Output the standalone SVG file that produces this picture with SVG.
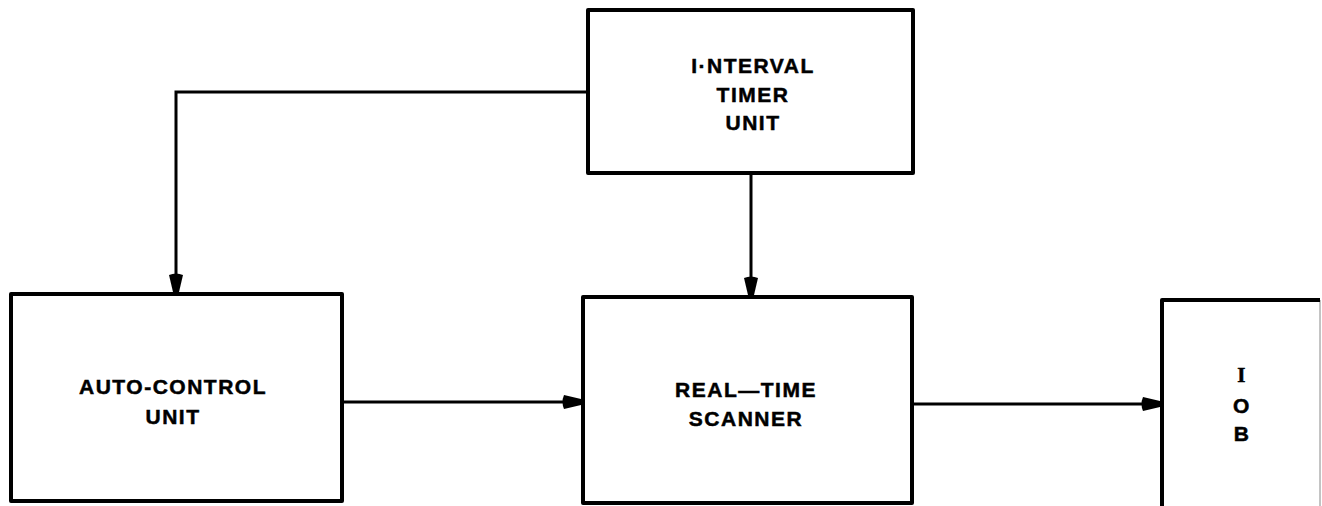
<svg xmlns="http://www.w3.org/2000/svg" width="1322" height="506" viewBox="0 0 1322 506">
<style>
.box{fill:#fff;stroke:#000;stroke-width:4;stroke-linejoin:round}
.lbl{font-family:"Liberation Sans",Arial,sans-serif;font-weight:bold;font-size:21px;letter-spacing:1.5px;text-anchor:middle;fill:#000;stroke:#000;stroke-width:0.5}
.conn{fill:none;stroke:#000;stroke-width:3;marker-end:url(#arr)}
</style>
<defs>
<marker id="arr" markerUnits="userSpaceOnUse" viewBox="-20 -8 21 16" refX="0" refY="0" markerWidth="21" markerHeight="16" orient="auto">
<path d="M0,-3 L-17,-7 Q-20,0 -17,7 L0,3 Z" fill="#000"/>
</marker>
</defs>
<rect width="1322" height="506" fill="#fff"/>
<g id="connectors">
<path class="conn" d="M588,92 H176 V292"/>
<path class="conn" d="M751,173 V295"/>
<path class="conn" d="M342,402 H581"/>
<path class="conn" d="M912,404 H1160"/>
</g>
<g id="interval-timer">
<rect class="box" x="588" y="10" width="325" height="163"/>
<text class="lbl" x="753" y="73">I·NTERVAL</text>
<text class="lbl" x="753" y="102">TIMER</text>
<text class="lbl" x="753" y="130">UNIT</text>
</g>
<g id="auto-control">
<rect class="box" x="11" y="294" width="331" height="207"/>
<text class="lbl" x="173" y="394">AUTO-CONTROL</text>
<text class="lbl" x="173" y="424">UNIT</text>
</g>
<g id="scanner">
<rect class="box" x="583" y="297" width="329" height="206"/>
<text class="lbl" x="746" y="397">REAL—TIME</text>
<text class="lbl" x="746" y="426">SCANNER</text>
</g>
<g id="iob">
<rect x="1162" y="300" width="158" height="220" fill="#fff"/>
<line x1="1320" y1="300" x2="1320" y2="506" stroke="#888" stroke-width="1"/>
<path d="M1162,508 V300 H1320" fill="none" stroke="#000" stroke-width="4" stroke-linejoin="round"/>
<text class="lbl" x="1242" y="382" style="font-family:'Liberation Serif',serif">I</text>
<text class="lbl" x="1242" y="413">O</text>
<text class="lbl" x="1242" y="441">B</text>
</g>
</svg>
